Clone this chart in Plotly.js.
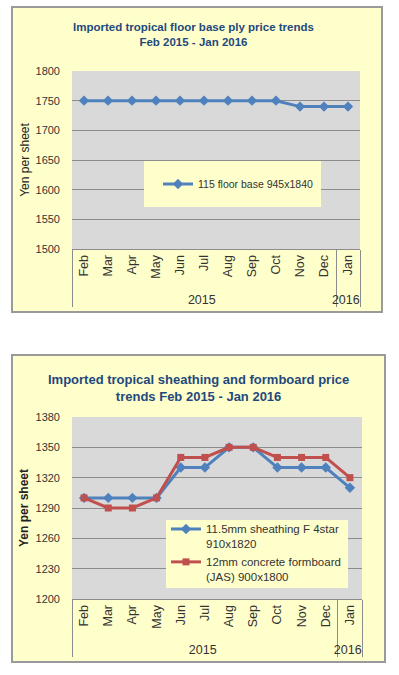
<!DOCTYPE html>
<html><head><meta charset="utf-8">
<script src="https://cdn.plot.ly/plotly-3.0.1.min.js"></script>
<style>html,body{margin:0;padding:0;background:#fff;}#chart{width:399px;height:675px;}</style>
</head><body><div id="chart"></div>
<script>
const months = ["Feb","Mar","Apr","May","Jun","Jul","Aug","Sep","Oct","Nov","Dec","Jan"];
const years = ["2015","2015","2015","2015","2015","2015","2015","2015","2015","2015","2015","2016"];
const floorBase = [1750,1750,1750,1750,1750,1750,1750,1750,1750,1740,1740,1740];
const sheathing = [1300,1300,1300,1300,1330,1330,1350,1350,1330,1330,1330,1310];
const formboard = [1300,1290,1290,1300,1340,1340,1350,1350,1340,1340,1340,1320];
const name1 = "115 floor base 945x1840";
const name2 = "11.5mm sheathing F 4star<br>910x1820";
const name3 = "12mm concrete formboard<br>(JAS) 900x1800";

const W = 399, H = 675;
const px = v => v / W;
const py = v => 1 - v / H;
const FONT = '"Liberation Sans", Arial, sans-serif';
const BLUE = '#4F81BD', RED = '#C0504D', TITLE = '#1F497D', GRID = '#8c8c8c';

const traces = [
  {x:[years, months], y:floorBase, name:name1, type:'scatter', mode:'lines+markers',
   line:{color:BLUE, width:3}, marker:{symbol:'diamond', size:8, color:BLUE},
   xaxis:'x', yaxis:'y', legend:'legend'},
  {x:[years, months], y:sheathing, name:name2, type:'scatter', mode:'lines+markers',
   line:{color:BLUE, width:3}, marker:{symbol:'diamond', size:8, color:BLUE},
   xaxis:'x2', yaxis:'y2', legend:'legend2'},
  {x:[years, months], y:formboard, name:name3, type:'scatter', mode:'lines+markers',
   line:{color:RED, width:3}, marker:{symbol:'square', size:7, color:RED},
   xaxis:'x2', yaxis:'y2', legend:'legend2'}
];

function xax(d){
  return {domain:d, type:'multicategory', range:[-0.5, months.length - 0.5], autorange:false,
    tickangle:-90, showdividers:true,
    dividercolor:GRID, dividerwidth:1, showline:true, linecolor:GRID, linewidth:1,
    showgrid:false, ticks:'', tickfont:{family:FONT, size:12.5, color:'#333'}, automargin:false, fixedrange:true};
}
function yax(d, r, dt, bold){
  return {domain:d, range:r, dtick:dt, tick0:r[0], showgrid:true, gridcolor:GRID, gridwidth:1,
    zeroline:false, showline:false, ticks:'', ticklabelstandoff:11,
    tickfont:{family:FONT, size:11, color:'#333'}, automargin:false, fixedrange:true,
    title:{text:'Yen per sheet', standoff:bold?4:3, font:{family:FONT, size:12, color:'#222', weight: bold?700:400}}};
}

const layout = {
  width:W, height:H, margin:{l:0,r:0,t:0,b:0}, paper_bgcolor:'#ffffff', plot_bgcolor:'rgba(0,0,0,0)',
  showlegend:true, font:{family:FONT},
  xaxis: Object.assign(xax([px(72), px(360)]), {anchor:'y'}),
  yaxis: Object.assign(yax([py(249), py(71)], [1500,1800], 50, false), {anchor:'x'}),
  xaxis2: Object.assign(xax([px(72), px(362)]), {anchor:'y2'}),
  yaxis2: Object.assign(yax([py(599), py(417)], [1200,1380], 30, true), {anchor:'x2'}),
  legend:{x:px(158), y:py(184), xanchor:'left', yanchor:'middle', bgcolor:'rgba(0,0,0,0)', borderwidth:0,
    font:{family:FONT, size:10.5, color:'#333'}},
  legend2:{x:px(166), y:py(515), xanchor:'left', yanchor:'top', bgcolor:'rgba(0,0,0,0)', borderwidth:0,
    valign:'top', font:{family:FONT, size:11.5, color:'#333'}},
  shapes:[
    {type:'rect', xref:'paper', yref:'paper', x0:px(12), x1:px(382), y0:py(312), y1:py(7),
     fillcolor:'#FFFFCC', line:{color:'#9a9a9a', width:2}, layer:'below'},
    {type:'rect', xref:'paper', yref:'paper', x0:px(12), x1:px(385), y0:py(662), y1:py(355),
     fillcolor:'#FFFFCC', line:{color:'#9a9a9a', width:2}, layer:'below'},
    {type:'rect', xref:'x domain', yref:'y domain', x0:0, x1:1, y0:0, y1:1,
     fillcolor:'#D9D9D9', line:{width:0}, layer:'below'},
    {type:'rect', xref:'x2 domain', yref:'y2 domain', x0:0, x1:1, y0:0, y1:1,
     fillcolor:'#D9D9D9', line:{width:0}, layer:'below'},
    {type:'rect', xref:'paper', yref:'paper', x0:px(144), x1:px(321), y0:py(207), y1:py(161),
     fillcolor:'#FFFFCC', line:{width:0}, layer:'above'},
    {type:'rect', xref:'paper', yref:'paper', x0:px(166), x1:px(348), y0:py(588), y1:py(520),
     fillcolor:'#FFFFCC', line:{width:0}, layer:'above'}
  ],
  annotations:[
    {text:'Imported tropical floor base ply price trends<br>Feb 2015 - Jan 2016', xref:'paper', yref:'paper',
     x:px(193), y:py(35), xanchor:'center', yanchor:'middle', showarrow:false,
     font:{family:FONT, size:11.5, color:TITLE, weight:700}},
    {text:'Imported tropical sheathing and formboard price<br>trends Feb 2015 - Jan 2016', xref:'paper', yref:'paper',
     x:px(198), y:py(388), xanchor:'center', yanchor:'middle', showarrow:false,
     font:{family:FONT, size:13, color:TITLE, weight:700}}
  ]
};

Plotly.newPlot('chart', traces, layout, {displayModeBar:false, staticPlot:true});
</script>
</body></html>
